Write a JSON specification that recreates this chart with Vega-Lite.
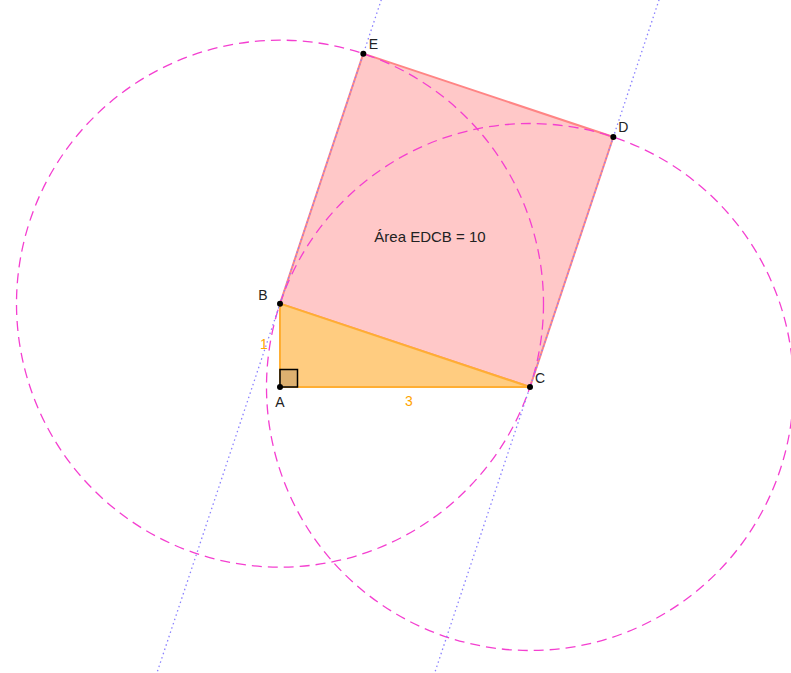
{
  "$schema": "https://vega.github.io/schema/vega-lite/v6.json",
  "width": 791,
  "height": 673,
  "padding": 0,
  "autosize": {"type": "none"},
  "background": "white",
  "config": {"view": {"stroke": null}, "font": "Liberation Sans"},
  "datasets": {
    "square": [
      {"o": 1, "x": 1, "y": 4},
      {"o": 2, "x": 4, "y": 3},
      {"o": 3, "x": 3, "y": 0},
      {"o": 4, "x": 0, "y": 1},
      {"o": 5, "x": 1, "y": 4}
    ],
    "tri": [
      {"o": 1, "x": 0, "y": 0},
      {"o": 2, "x": 3, "y": 0},
      {"o": 3, "x": 0, "y": 1},
      {"o": 4, "x": 0, "y": 0}
    ],
    "rightangle": [
      {"o": 1, "x": 0, "y": 0},
      {"o": 2, "x": 0.21, "y": 0},
      {"o": 3, "x": 0.21, "y": 0.21},
      {"o": 4, "x": 0, "y": 0.21},
      {"o": 5, "x": 0, "y": 0}
    ],
    "pts": [
      {"name": "A", "x": 0, "y": 0},
      {"name": "B", "x": 0, "y": 1},
      {"name": "C", "x": 3, "y": 0},
      {"name": "D", "x": 4, "y": 3},
      {"name": "E", "x": 1, "y": 4}
    ],
    "circles": [
      {"center": "B", "x": 0, "y": 1},
      {"center": "C", "x": 3, "y": 0}
    ],
    "lines": [
      {"name": "g", "x": -2, "y": -5, "x2": 1.6667, "y2": 6},
      {"name": "h", "x": 1.3333, "y": -5, "x2": 5, "y2": 6}
    ],
    "seglabels": [
      {"label": "1", "x": 0, "y": 0.5},
      {"label": "3", "x": 1.5, "y": 0}
    ],
    "area": [
      {"label": "Área EDCB = 10", "x": 1.8, "y": 1.8}
    ]
  },
  "encoding": {
    "x": {"field": "x", "type": "quantitative", "scale": {"domain": [-3.36, 6.132], "nice": false, "zero": false}, "axis": null},
    "y": {"field": "y", "type": "quantitative", "scale": {"domain": [-3.432, 4.644], "nice": false, "zero": false}, "axis": null}
  },
  "layer": [
    {
      "data": {"name": "square"},
      "mark": {"type": "line", "fill": "#ffc8c8", "stroke": "#ff8585", "strokeWidth": 2, "interpolate": "linear"},
      "encoding": {"order": {"field": "o", "type": "quantitative"}}
    },
    {
      "data": {"name": "tri"},
      "mark": {"type": "line", "fill": "#ffcc80", "stroke": "#ffae33", "strokeWidth": 2, "interpolate": "linear"},
      "encoding": {"order": {"field": "o", "type": "quantitative"}}
    },
    {
      "data": {"name": "rightangle"},
      "mark": {"type": "line", "fill": "#ddb070", "stroke": "#000000", "strokeWidth": 1.5, "interpolate": "linear"},
      "encoding": {"order": {"field": "o", "type": "quantitative"}}
    },
    {
      "data": {"name": "circles"},
      "mark": {"type": "point", "shape": "circle", "filled": false, "size": 277729, "stroke": "#f43fd0", "strokeWidth": 1.3, "strokeDash": [10, 6], "opacity": 1, "clip": true}
    },
    {
      "data": {"name": "lines"},
      "mark": {"type": "rule", "stroke": "#8a80ff", "strokeWidth": 1.3, "strokeDash": [1.5, 3], "clip": true},
      "encoding": {"x2": {"field": "x2"}, "y2": {"field": "y2"}}
    },
    {
      "data": {"name": "pts"},
      "mark": {"type": "point", "shape": "circle", "filled": true, "size": 36, "color": "#000000", "opacity": 1}
    },
    {
      "data": {"name": "pts"},
      "transform": [{"filter": "datum.name == 'A'"}],
      "mark": {"type": "text", "dx": 0, "dy": 16, "fontSize": 14, "color": "#222222"},
      "encoding": {"text": {"field": "name"}}
    },
    {
      "data": {"name": "pts"},
      "transform": [{"filter": "datum.name == 'B'"}],
      "mark": {"type": "text", "dx": -17, "dy": -8, "fontSize": 14, "color": "#222222"},
      "encoding": {"text": {"field": "name"}}
    },
    {
      "data": {"name": "pts"},
      "transform": [{"filter": "datum.name == 'C'"}],
      "mark": {"type": "text", "dx": 10, "dy": -8, "fontSize": 14, "color": "#222222"},
      "encoding": {"text": {"field": "name"}}
    },
    {
      "data": {"name": "pts"},
      "transform": [{"filter": "datum.name == 'D' || datum.name == 'E'"}],
      "mark": {"type": "text", "dx": 10, "dy": -9, "fontSize": 14, "color": "#222222"},
      "encoding": {"text": {"field": "name"}}
    },
    {
      "data": {"name": "seglabels"},
      "transform": [{"filter": "datum.label == '1'"}],
      "mark": {"type": "text", "dx": -16, "dy": 0, "fontSize": 14, "color": "#ffa500"},
      "encoding": {"text": {"field": "label"}}
    },
    {
      "data": {"name": "seglabels"},
      "transform": [{"filter": "datum.label == '3'"}],
      "mark": {"type": "text", "dx": 4, "dy": 15, "fontSize": 14, "color": "#ffa500"},
      "encoding": {"text": {"field": "label"}}
    },
    {
      "data": {"name": "area"},
      "mark": {"type": "text", "fontSize": 15, "color": "#222222"},
      "encoding": {"text": {"field": "label"}}
    }
  ]
}
